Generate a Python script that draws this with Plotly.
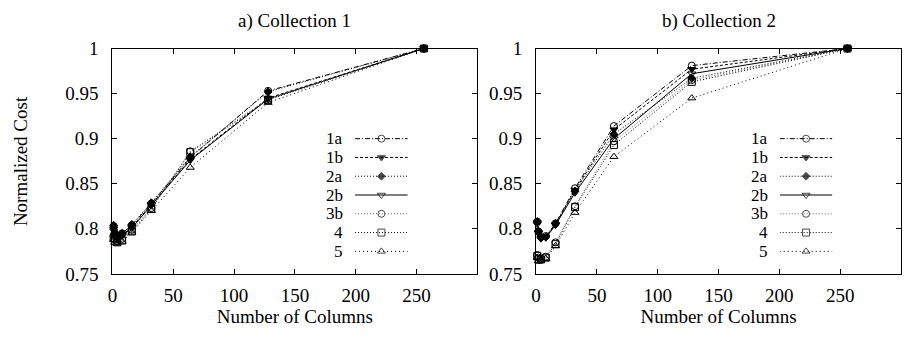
import plotly.graph_objects as go

FONT = "Liberation Serif"
W, H = 906, 345
FS = 19
FS_LEG = 17

columns = [1, 2, 4, 8, 16, 32, 64, 128, 256]
series_names = ["1a", "1b", "2a", "2b", "3b", "4", "5"]

coll1 = {
    "1a": [0.803, 0.795, 0.792, 0.795, 0.804, 0.828, 0.879, 0.953, 1.0],
    "1b": [0.800, 0.793, 0.790, 0.793, 0.802, 0.827, 0.877, 0.945, 1.0],
    "2a": [0.804, 0.796, 0.793, 0.795, 0.805, 0.829, 0.880, 0.952, 1.0],
    "2b": [0.798, 0.792, 0.789, 0.792, 0.801, 0.826, 0.876, 0.944, 1.0],
    "3b": [0.792, 0.788, 0.786, 0.789, 0.799, 0.823, 0.886, 0.944, 1.0],
    "4":  [0.790, 0.786, 0.785, 0.787, 0.797, 0.822, 0.885, 0.943, 1.0],
    "5":  [0.788, 0.785, 0.784, 0.786, 0.796, 0.820, 0.868, 0.940, 1.0],
}
coll2 = {
    "1a": [0.808, 0.797, 0.791, 0.792, 0.806, 0.845, 0.914, 0.981, 1.0],
    "1b": [0.807, 0.796, 0.790, 0.791, 0.805, 0.843, 0.910, 0.977, 1.0],
    "2a": [0.808, 0.797, 0.790, 0.791, 0.806, 0.842, 0.905, 0.967, 1.0],
    "2b": [0.805, 0.795, 0.789, 0.790, 0.804, 0.840, 0.900, 0.972, 1.0],
    "3b": [0.771, 0.768, 0.767, 0.769, 0.785, 0.825, 0.897, 0.965, 1.0],
    "4":  [0.770, 0.766, 0.766, 0.768, 0.783, 0.824, 0.893, 0.963, 1.0],
    "5":  [0.768, 0.764, 0.765, 0.767, 0.781, 0.818, 0.880, 0.945, 1.0],
}

x_ticks = [0, 50, 100, 150, 200, 250]
y_ticks = [0.75, 0.8, 0.85, 0.9, 0.95, 1.0]
y_ticktext = ["0.75", "0.8", "0.85", "0.9", "0.95", "1"]

styles = {
    "1a": dict(dash="5px,2px,1px,2px", color="black", symbol="circle-open", size=7),
    "1b": dict(dash="3px,2px", color="black", symbol="triangle-down", size=7),
    "2a": dict(dash="1px,2px", color="black", symbol="diamond", size=6),
    "2b": dict(dash="solid", color="black", symbol="triangle-down-open", size=7),
    "3b": dict(dash="1px,2px", color="#666666", symbol="circle-open", size=7),
    "4":  dict(dash="1px,2px", color="black", symbol="square-open", size=7),
    "5":  dict(dash="1px,3px", color="black", symbol="triangle-up-open", size=7),
}

fig = go.Figure()

def add_data(data, xa, ya):
    for name in series_names:
        s = styles[name]
        fig.add_trace(go.Scatter(
            x=columns, y=data[name], mode="lines+markers", xaxis=xa, yaxis=ya,
            line=dict(color=s["color"], width=1, dash=s["dash"]),
            marker=dict(symbol=s["symbol"], size=s["size"], color="black",
                        line=dict(color="black", width=1)),
            cliponaxis=False, showlegend=False, name=name))

add_data(coll1, "x", "y")
add_data(coll2, "x2", "y2")

px_x = lambda p: p / W
px_y = lambda p: 1 - p / H

LEG_TOP, LEG_STEP = 137, 20

# legend samples on their own helper axes
def add_legend(xa, ya, label_right_px):
    for i, name in enumerate(series_names):
        s = styles[name]
        fig.add_trace(go.Scatter(
            x=[0, 0.5, 1], y=[i, i, i], mode="lines+markers", xaxis=xa, yaxis=ya,
            line=dict(color=s["color"], width=1, dash=s["dash"]),
            marker=dict(symbol=s["symbol"], size=[0, s["size"], 0], color="black",
                        line=dict(color="black", width=1)),
            cliponaxis=False, showlegend=False, hoverinfo="skip"))
        fig.add_annotation(x=px_x(label_right_px), y=px_y(LEG_TOP + LEG_STEP * i),
                           xref="paper", yref="paper", text=name,
                           showarrow=False, xanchor="right", yanchor="middle",
                           borderpad=0,
                           font=dict(family=FONT, size=FS_LEG, color="black"))

add_legend("x3", "y3", 341)
add_legend("x4", "y4", 768)

left_dom = [px_x(108), px_x(475)]
right_dom = [px_x(534), px_x(901)]
ydom = [px_y(281), px_y(41)]

axis_common = dict(showline=True, linecolor="black", linewidth=1, mirror="ticks",
                   ticks="inside", ticklen=5, tickcolor="black", showgrid=False,
                   zeroline=False, tickfont=dict(family=FONT, size=FS, color="black"))

xcommon = dict(axis_common, range=[0, 300], tickvals=x_ticks, ticklabelstandoff=4,
               title=dict(text="Number of Columns", font=dict(family=FONT, size=FS, color="black"),
                          standoff=5))
ycommon = dict(axis_common, range=[0.75, 1.0], tickvals=y_ticks, ticktext=y_ticktext,
               ticklabelstandoff=9)

leg_y = [px_y(LEG_TOP + LEG_STEP * 6.5), px_y(LEG_TOP - LEG_STEP * 0.5)]
legend_axis = dict(visible=False, showgrid=False, zeroline=False, fixedrange=True)

fig.update_layout(
    width=W, height=H, margin=dict(l=0, r=0, t=0, b=0),
    paper_bgcolor="white", plot_bgcolor="white",
    font=dict(family=FONT, size=FS, color="black"),
    xaxis=dict(xcommon, domain=left_dom, anchor="y"),
    yaxis=dict(ycommon, domain=ydom, anchor="x"),
    xaxis2=dict(xcommon, domain=right_dom, anchor="y2"),
    yaxis2=dict(ycommon, domain=ydom, anchor="x2"),
    xaxis3=dict(legend_axis, domain=[px_x(352), px_x(405)], range=[0, 1], anchor="y3"),
    yaxis3=dict(legend_axis, domain=leg_y, range=[6.5, -0.5], anchor="x3"),
    xaxis4=dict(legend_axis, domain=[px_x(779), px_x(832)], range=[0, 1], anchor="y4"),
    yaxis4=dict(legend_axis, domain=leg_y, range=[6.5, -0.5], anchor="x4"),
    showlegend=False,
)

fig.add_annotation(x=px_x(15), y=(ydom[0] + ydom[1]) / 2, xref="paper", yref="paper",
                   text="Normalized Cost", textangle=-90, showarrow=False,
                   xanchor="center", yanchor="middle",
                   font=dict(family=FONT, size=FS, color="black"))
fig.add_annotation(x=(left_dom[0] + left_dom[1]) / 2, y=px_y(12), xref="paper", yref="paper",
                   text="a) Collection 1", showarrow=False, xanchor="center", yanchor="middle",
                   font=dict(family=FONT, size=FS, color="black"))
fig.add_annotation(x=(right_dom[0] + right_dom[1]) / 2, y=px_y(12), xref="paper", yref="paper",
                   text="b) Collection 2", showarrow=False, xanchor="center", yanchor="middle",
                   font=dict(family=FONT, size=FS, color="black"))

fig.write_html("out.html")
